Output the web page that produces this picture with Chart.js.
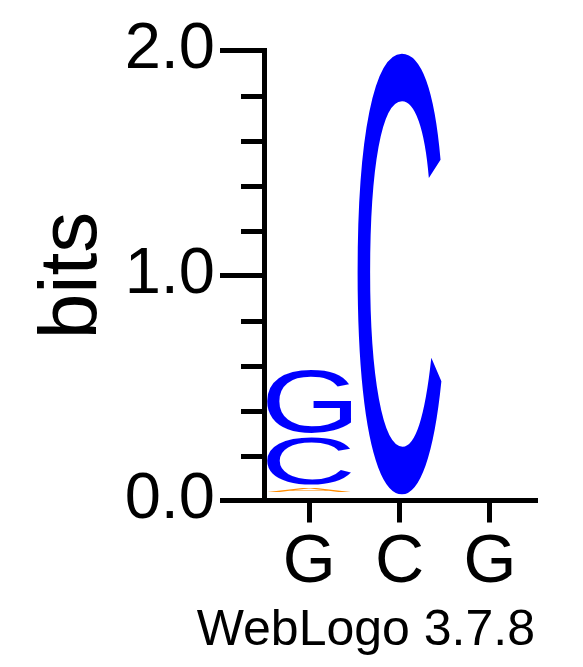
<!DOCTYPE html>
<html>
<head>
<meta charset="utf-8">
<script src="https://cdn.jsdelivr.net/npm/chart.js@4"></script>
<style>
  html, body { margin: 0; padding: 0; background: #fff; }
  #wrap { width: 583px; height: 667px; }
</style>
</head>
<body>
<div id="wrap"><canvas id="logo"></canvas></div>
<script>
const positions = ["G", "C", "G"];

// stacked bottom to top, in bits
const bitsT = [0.024, 0, 0];
const bitsA = [0.033, 0, 0];
const bitsC = [0.227, 1.99, 0];
const bitsG = [0.296, 0, 0];

const minorTicks = [0.2, 0.4, 0.6, 0.8, 1.2, 1.4, 1.6, 1.8];

const BLUE = "#0000ff";
const ORANGE = "#ff8c00";
const FONT = '"Liberation Sans", Arial, sans-serif';

// draw a letter stretched to fill a box
function drawGlyph(ctx, letter, color, left, top, w, h) {
  ctx.save();
  ctx.font = "200px " + FONT;
  ctx.textAlign = "left";
  ctx.textBaseline = "alphabetic";
  const m = ctx.measureText(letter);
  const gw = m.actualBoundingBoxLeft + m.actualBoundingBoxRight;
  const gh = m.actualBoundingBoxAscent + m.actualBoundingBoxDescent;
  ctx.translate(left, top);
  ctx.scale(w / gw, h / gh);
  ctx.fillStyle = color;
  ctx.fillText(letter, m.actualBoundingBoxLeft, m.actualBoundingBoxAscent);
  ctx.restore();
}

const logoLetters = {
  id: "logoLetters",
  afterDatasetsDraw(chart) {
    const ctx = chart.ctx;
    chart.data.datasets.forEach((ds, i) => {
      const meta = chart.getDatasetMeta(i);
      meta.data.forEach((bar) => {
        const { x, y, base, width } = bar.getProps(["x", "y", "base", "width"], true);
        const h = base - y - 3.5;
        if (h <= 0) return;
        drawGlyph(ctx, ds.label, ds.glyphColor, x - width / 2, y, width, h);
      });
    });
  },
};

const minorTickMarks = {
  id: "minorTickMarks",
  afterDraw(chart) {
    const ctx = chart.ctx;
    const yScale = chart.scales.y;
    const x0 = chart.chartArea.left;
    ctx.save();
    ctx.strokeStyle = "#000";
    ctx.lineWidth = 5;
    minorTicks.forEach((v) => {
      const py = Math.round(yScale.getPixelForValue(v)) + 0.5;
      ctx.beginPath();
      ctx.moveTo(x0 - 23, py);
      ctx.lineTo(x0, py);
      ctx.stroke();
    });
    ctx.restore();
  },
};

function letterSet(label, values, color) {
  return {
    label: label,
    data: values,
    glyphColor: color,
    backgroundColor: "rgba(0,0,0,0)",
    borderWidth: 0,
    barPercentage: 0.93,
    categoryPercentage: 1,
  };
}

new Chart(document.getElementById("logo"), {
  type: "bar",
  data: {
    labels: positions,
    datasets: [
      letterSet("T", bitsT, ORANGE),
      letterSet("A", bitsA, ORANGE),
      letterSet("C", bitsC, BLUE),
      letterSet("G", bitsG, BLUE),
    ],
  },
  options: {
    responsive: true,
    maintainAspectRatio: false,
    animation: false,
    events: [],
    layout: { padding: { left: 0, right: 48, top: 50.5, bottom: 0 } },
    plugins: {
      legend: { display: false },
      tooltip: { enabled: false },
      title: {
        display: true,
        position: "bottom",
        align: "end",
        text: "WebLogo 3.7.8",
        color: "#000",
        padding: { top: 0, bottom: 5.5 },
        font: { family: FONT, size: 50, weight: "normal" },
      },
    },
    scales: {
      x: {
        stacked: true,
        afterFit: (scale) => { scale.height = 101; },
        grid: {
          offset: false,
          drawOnChartArea: false,
          tickLength: 22,
          lineWidth: 5,
          color: "#000",
        },
        border: { display: true, width: 5, color: "#000" },
        ticks: {
          color: "#000",
          padding: 0,
          font: { family: FONT, size: 68 },
        },
      },
      y: {
        stacked: true,
        min: 0,
        max: 2,
        afterFit: (scale) => { scale.width = 264; },
        grid: {
          drawOnChartArea: false,
          tickLength: 44,
          lineWidth: 5,
          color: "#000",
        },
        border: { display: true, width: 5, color: "#000" },
        ticks: {
          stepSize: 1,
          color: "#000",
          padding: 5,
          font: { family: FONT, size: 65 },
          callback: (v) => v.toFixed(1),
        },
        title: {
          display: true,
          text: "bits",
          color: "#000",
          padding: { top: 24, bottom: 0 },
          font: { family: FONT, size: 82 },
        },
      },
    },
  },
  plugins: [logoLetters, minorTickMarks],
});
</script>
</body>
</html>
